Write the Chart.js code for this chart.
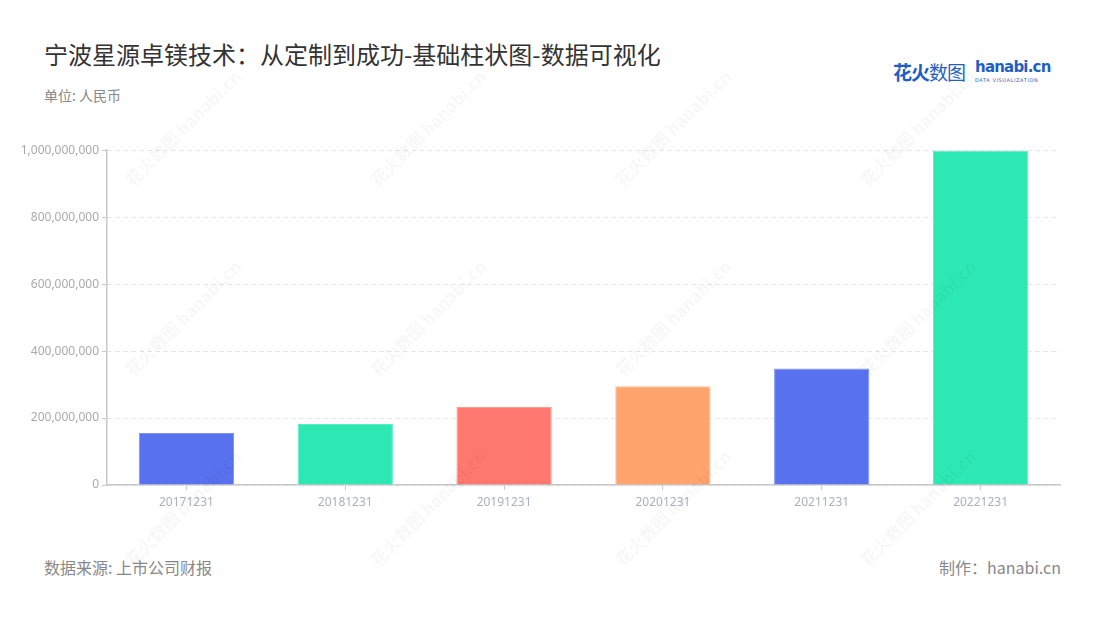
<!DOCTYPE html>
<html>
<head>
<meta charset="utf-8">
<script src="https://cdn.jsdelivr.net/npm/chart.js@4"></script>
<style>
  body { margin:0; width:1100px; height:620px; background:#fff; position:relative; overflow:hidden;
         font-family:"Noto Sans CJK SC","Noto Sans",sans-serif; }
  #title { position:absolute; left:44px; top:36px; font-size:24px; color:#333; }
  #unit { position:absolute; left:44px; top:85px; font-size:14px; color:#888; }
  #src { position:absolute; left:44px; top:555px; font-size:16px; color:#888; }
  #made { position:absolute; right:39px; top:555px; font-size:16px; color:#888; }
  #logo { position:absolute; left:893px; top:58px; height:30px; }
  #logo .cn { position:absolute; left:0; top:0; font-size:19px; font-weight:bold; color:#1f5fc4; letter-spacing:-1px; white-space:nowrap; }
  #logo .en { position:absolute; left:82px; top:0; font-family:"DejaVu Sans",sans-serif; font-size:15px; font-weight:bold; color:#1f5fc4; letter-spacing:-0.8px; }
  #logo .sub { position:absolute; left:82px; top:19px; font-family:"DejaVu Sans",sans-serif; font-size:5px; color:#1f5fc4; letter-spacing:0.6px; white-space:nowrap; }
  #box { position:absolute; left:0; top:140px; width:1100px; height:375px; }
  .wm { position:absolute; transform:rotate(-45deg); font-size:17px; font-weight:bold; color:rgba(0,0,0,0.03); white-space:nowrap; pointer-events:none; }
</style>
</head>
<body>
<div id="title">宁波星源卓镁技术：从定制到成功-基础柱状图-数据可视化</div>
<div id="unit">单位: 人民币</div>
<div id="logo"><span class="cn">花火<span style="font-weight:normal">数图</span></span><span class="en">hanabi.cn</span><span class="sub">DATA VISUALIZATION</span></div>
<div id="box"><canvas id="myChart"></canvas></div>
<div id="src">数据来源: 上市公司财报</div>
<div id="made">制作：hanabi.cn</div>
<script>
// data
const fechas = ['20171231','20181231','20191231','20201231','20211231','20221231']
const valores = [155000000, 182000000, 233000000, 295000000, 348000000, 998000000]
const colores = ['#5871ee','#2ee8b4','#ff7870','#ffa36f','#5871ee','#2ee8b4']
const bordes = ['#7d90f2','#58eec5','#ff9891','#ffbb94','#7d90f2','#58eec5']

// marcas de agua
for (let fila = 0; fila < 3; fila++) {
  for (let col = 0; col < 4; col++) {
    let w = document.createElement('div')
    w.className = 'wm'
    w.textContent = '花火数图 hanabi.cn'
    w.style.left = (105 + col * 245) + 'px'
    w.style.top = (115 + fila * 190) + 'px'
    document.body.appendChild(w)
  }
}

const ejeGris = '#c8c8c8'

const config = {
  type: 'bar',
  data: {
    labels: fechas,
    datasets: [{
      data: valores,
      backgroundColor: colores,
      borderColor: bordes,
      borderWidth: 1,
      barPercentage: 0.6,
      categoryPercentage: 1
    }]
  },
  options: {
    responsive: true,
    maintainAspectRatio: false,
    animation: false,
    layout: { padding: { left: 0, right: 40, top: 10, bottom: 0 } },
    plugins: { legend: { display: false }, tooltip: { enabled: false } },
    scales: {
      x: {
        afterFit: function (s) { s.height = 30 },
        grid: { offset: false, drawOnChartArea: false, tickLength: 5, tickColor: ejeGris },
        border: { color: ejeGris, width: 1.5 },
        ticks: { color: '#aab0c2', font: { size: 12, family: 'Noto Sans' }, padding: 5 }
      },
      y: {
        min: 0,
        max: 1000000000,
        afterFit: function (s) { s.width = 107 },
        grid: { color: '#e3e3e3', tickColor: ejeGris, tickLength: 5, tickBorderDash: [], drawTicks: true },
        border: { color: ejeGris, width: 1.5, dash: [4, 4] },
        ticks: {
          stepSize: 200000000,
          color: '#aaaaaa',
          font: { size: 12, family: 'Noto Sans' },
          padding: 3,
          callback: function (v) { return Number(v).toLocaleString('en-US') }
        }
      }
    }
  }
}

const myChart = new Chart(document.getElementById('myChart'), config)
</script>
</body>
</html>
